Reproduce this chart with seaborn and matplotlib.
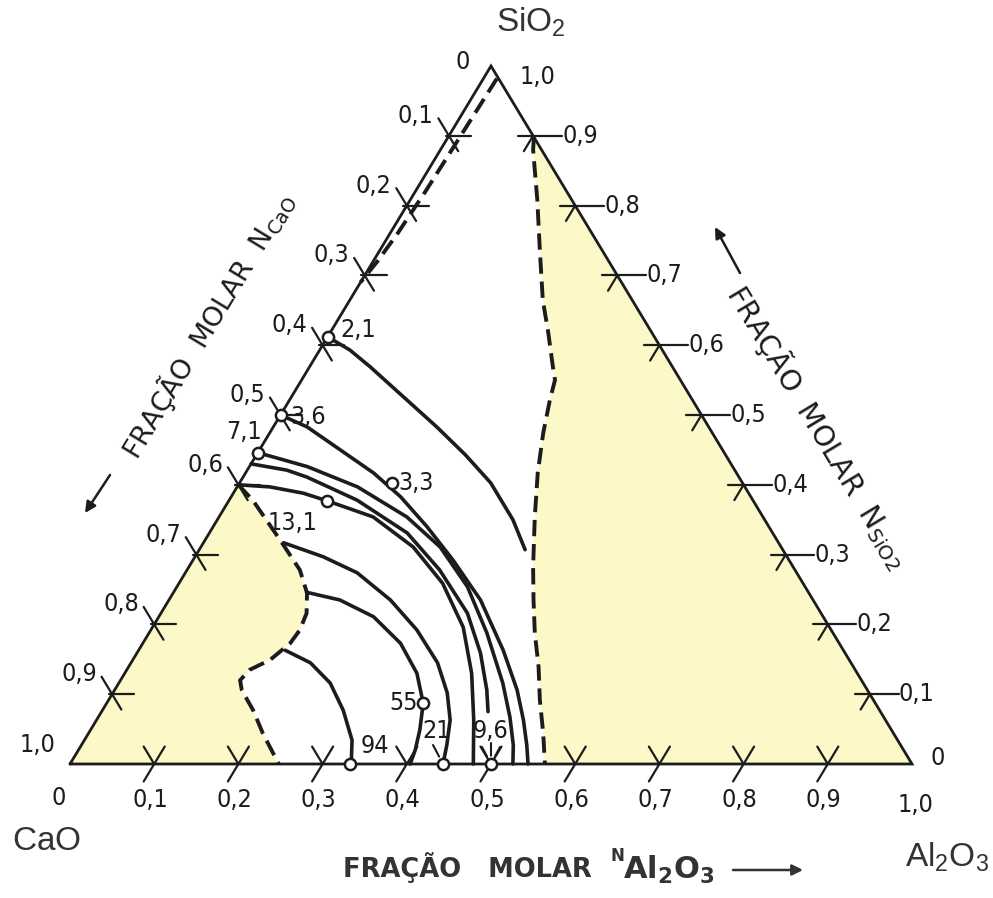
import numpy as np
import pandas as pd
import matplotlib
matplotlib.use("Agg")
import matplotlib.pyplot as plt
import seaborn as sns
from matplotlib import font_manager as fm

# ---------------- data: ternary compositions (N_Al2O3, N_SiO2); N_CaO = 1 - both ----------------
# iso-lines (solid)
al_2_1 = [0.000, 0.036, 0.072, 0.133, 0.194, 0.248, 0.298, 0.351, 0.387]
si_2_1 = [0.612, 0.593, 0.569, 0.526, 0.483, 0.443, 0.403, 0.350, 0.307]

al_3_6 = [0.000, 0.040, 0.096, 0.152, 0.201, 0.254, 0.309, 0.370, 0.433, 0.478, 0.507, 0.529, 0.544]
si_3_6 = [0.500, 0.483, 0.450, 0.417, 0.383, 0.340, 0.292, 0.235, 0.163, 0.106, 0.063, 0.027, 0.000]

al_7_1 = [0.000, 0.021, 0.069, 0.143, 0.223, 0.284, 0.345, 0.401, 0.456, 0.489, 0.513, 0.526]
si_7_1 = [0.446, 0.440, 0.426, 0.397, 0.354, 0.311, 0.254, 0.188, 0.116, 0.067, 0.027, 0.000]

al_9_6 = [0.000, 0.047, 0.076, 0.152, 0.235, 0.300, 0.364, 0.408, 0.442, 0.459]
si_9_6 = [0.430, 0.421, 0.411, 0.378, 0.331, 0.278, 0.216, 0.159, 0.106, 0.075]

al_13_1 = [0.000, 0.039, 0.083, 0.117, 0.183, 0.252, 0.313, 0.369, 0.412, 0.448, 0.479]
si_13_1 = [0.400, 0.397, 0.388, 0.377, 0.354, 0.311, 0.259, 0.196, 0.130, 0.063, 0.000]

al_21 = [0.095, 0.152, 0.204, 0.263, 0.316, 0.364, 0.397, 0.420, 0.434, 0.443]
si_21 = [0.317, 0.297, 0.274, 0.235, 0.192, 0.145, 0.102, 0.063, 0.027, 0.000]

al_55 = [0.158, 0.203, 0.255, 0.306, 0.347, 0.376, 0.391, 0.400, 0.404]
si_55 = [0.246, 0.235, 0.211, 0.173, 0.130, 0.087, 0.049, 0.020, 0.000]

al_94 = [0.174, 0.213, 0.251, 0.286, 0.318, 0.334]
si_94 = [0.163, 0.145, 0.116, 0.077, 0.034, 0.000]

# phase boundaries (dashed)
left_bound_al = [0.000, 0.028, 0.089, 0.134, 0.159, 0.173, 0.177, 0.175, 0.163, 0.146, 0.142, 0.151, 0.179, 0.207, 0.233, 0.248]
left_bound_si = [0.400, 0.378, 0.321, 0.278, 0.245, 0.216, 0.192, 0.173, 0.149, 0.135, 0.120, 0.106, 0.077, 0.044, 0.016, 0.000]

right_bound_al = [0.102, 0.110, 0.151, 0.190, 0.229, 0.259, 0.289, 0.301, 0.309, 0.325, 0.347, 0.375, 0.409, 0.433, 0.458, 0.487, 0.512, 0.540, 0.564]
right_bound_si = [0.898, 0.880, 0.808, 0.736, 0.665, 0.618, 0.569, 0.550, 0.522, 0.474, 0.417, 0.354, 0.282, 0.235, 0.188, 0.139, 0.092, 0.044, 0.000]

apex_bound_al = [0.016, 0.014, 0.012, 0.009, 0.005, 0.000]
apex_bound_si = [0.982, 0.900, 0.820, 0.760, 0.720, 0.690]

# measured points
pt_labels = ["2,1", "3,6", "7,1", "13,1", "3,3", "55", "94", "21", "9,6"]
pt_al = [0.000, 0.000, 0.000, 0.117, 0.181, 0.376, 0.333, 0.443, 0.500]
pt_si = [0.612, 0.500, 0.446, 0.377, 0.403, 0.087, 0.000, 0.000, 0.000]

# axis ticks
tick_values = [0.1, 0.2, 0.3, 0.4, 0.5, 0.6, 0.7, 0.8, 0.9]
tick_labels = ["0,1", "0,2", "0,3", "0,4", "0,5", "0,6", "0,7", "0,8", "0,9"]

# ---------------- style ----------------
sns.set_theme(style="white")
plt.rcParams["font.family"] = ["DejaVu Sans"]
names = {f.name for f in fm.fontManager.ttflist}
NARROW = "Liberation Sans Narrow" if "Liberation Sans Narrow" in names else "DejaVu Sans"
STRETCH = "normal" if NARROW != "DejaVu Sans" else "condensed"
CORNER = "Liberation Sans" if "Liberation Sans" in names else "DejaVu Sans"
plt.rcParams["mathtext.fontset"] = "custom"
plt.rcParams["mathtext.rm"] = "DejaVu Sans"
plt.rcParams["mathtext.sf"] = CORNER
plt.rcParams["mathtext.bf"] = "DejaVu Sans:bold"

INK = "#1c1c1c"
YELLOW = "#fcf8c8"
W, H = 993, 898

fig = plt.figure(figsize=(W / 100, H / 100), dpi=100)
fig.patch.set_facecolor("white")
ax = fig.add_axes([0, 0, 1, 1])
ax.set_xlim(-70 / 842, 923 / 842)
ax.set_ylim((764 - 898) / 698, 764 / 698)
ax.axis("off")


def tern(al, si):
    al = np.asarray(al, dtype=float)
    si = np.asarray(si, dtype=float)
    return al + 0.5 * si, si


# ---------------- yellow regions ----------------
lx, ly = tern([0.0] + left_bound_al, [0.0] + left_bound_si)
ax.fill(lx, ly, color=YELLOW, lw=0, zorder=0)
rx, ry = tern(right_bound_al + [1.0], right_bound_si + [0.0])
ax.fill(rx, ry, color=YELLOW, lw=0, zorder=0)

# ---------------- iso-lines ----------------
curves = {
    "2,1": (al_2_1, si_2_1), "3,6": (al_3_6, si_3_6), "7,1": (al_7_1, si_7_1),
    "9,6": (al_9_6, si_9_6), "13,1": (al_13_1, si_13_1), "21": (al_21, si_21),
    "55": (al_55, si_55), "94": (al_94, si_94),
}
rows = []
for name, (al, si) in curves.items():
    X, Y = tern(al, si)
    for i, (x, y) in enumerate(zip(X, Y)):
        rows.append({"curve": name, "i": i, "X": x, "Y": y})
df = pd.DataFrame(rows)
sns.lineplot(data=df, x="X", y="Y", units="curve", estimator=None, sort=False,
             color=INK, lw=2.6, ax=ax, legend=False, zorder=3)

# ---------------- dashed boundaries ----------------
for al, si in [(left_bound_al, left_bound_si), (right_bound_al, right_bound_si),
               (apex_bound_al, apex_bound_si)]:
    X, Y = tern(al, si)
    ax.plot(X, Y, color=INK, lw=2.8, linestyle=(0, (4.2, 2.0)), zorder=3,
            solid_capstyle="butt", dash_capstyle="butt")

# ---------------- triangle ----------------
tx, ty = tern([0, 1, 0, 0], [0, 0, 1, 0])
ax.plot(tx, ty, color=INK, lw=2.0, zorder=4, solid_joinstyle="miter")

# ---------------- ticks ----------------
tick_kw = dict(color=INK, lw=1.6, zorder=4)
lab_kw = dict(fontsize=18, fontfamily=NARROW, fontstretch=STRETCH, color=INK,
              ha="center", va="center", textcoords="offset pixels")
for t, lab in zip(tick_values, tick_labels):
    # left side: N_CaO = t
    s = 1 - t
    x, y = tern([-0.025, 0.022], [s + 0.025, s - 0.022])
    ax.plot(x, y, **tick_kw)
    x, y = tern([-0.004, 0.026], [s, s])
    ax.plot(x, y, **tick_kw)
    P = tern(0, s)
    ax.annotate(lab, xy=P, xytext=(-33, 20), **lab_kw)
    # bottom: N_Al2O3 = t
    x, y = tern([t, t], [-0.025, 0.025])
    ax.plot(x, y, **tick_kw)
    x, y = tern([t, t - 0.025], [0, 0.025])
    ax.plot(x, y, **tick_kw)
    ax.annotate(lab, xy=tern(t, 0), xytext=(-4, -36), **lab_kw)
    # right side: N_SiO2 = t
    x, y = tern([1 - t - 0.018, 1 - t + 0.034], [t, t])
    ax.plot(x, y, **tick_kw)
    x, y = tern([1 - t, 1 - t], [t, t - 0.022])
    ax.plot(x, y, **tick_kw)
    ax.annotate(lab, xy=tern(1 - t, t), xytext=(47, 0), **lab_kw)

# end labels at the corners
ax.annotate("0", xy=tern(0, 1), xytext=(-28, 4), **lab_kw)
ax.annotate("1,0", xy=tern(0, 1), xytext=(47, -11), **lab_kw)
ax.annotate("1,0", xy=tern(0, 0), xytext=(-32, 19), **lab_kw)
ax.annotate("0", xy=tern(0, 0), xytext=(-11, -34), **lab_kw)
ax.annotate("1,0", xy=tern(1, 0), xytext=(3, -41), **lab_kw)
ax.annotate("0", xy=tern(1, 0), xytext=(26, 6), **lab_kw)

# ---------------- measured points ----------------
PX, PY = tern(pt_al, pt_si)
sns.scatterplot(x=PX, y=PY, s=65, facecolor="white", edgecolor=INK, linewidth=1.8,
                ax=ax, zorder=6, legend=False)
label_offsets = {"2,1": (31, 7), "3,6": (28, -2), "7,1": (-14, 21), "13,1": (-35, -22),
                 "3,3": (24, 0), "55": (-20, 0), "94": (25, 18), "21": (-6, 33), "9,6": (-1, 33)}
for lab, x, y in zip(pt_labels, PX, PY):
    ax.annotate(lab, xy=(x, y), xytext=label_offsets[lab], **lab_kw)

# pointer strokes
ptr = dict(arrowstyle="-", color=INK, lw=1.5, shrinkA=0, shrinkB=6)
i21 = pt_labels.index("21")
ax.annotate("", xy=(PX[i21], PY[i21]), xytext=(-10, 19), textcoords="offset pixels", arrowprops=ptr)
i96 = pt_labels.index("9,6")
for off in [(-9, 17), (0, 21), (9, 17)]:
    ax.annotate("", xy=(PX[i96], PY[i96]), xytext=off, textcoords="offset pixels", arrowprops=ptr)

# ---------------- corner labels ----------------
def fpos(px, py):
    return px / W, 1 - py / H

fig.text(*fpos(531, 22), r"$\mathsf{SiO_2}$", fontsize=24, color="#333333", ha="center", va="center")
fig.text(*fpos(47, 840), r"$\mathsf{CaO}$", fontsize=24, color="#333333", ha="center", va="center")
fig.text(*fpos(947, 857), r"$\mathsf{Al_2O_3}$", fontsize=24, color="#333333", ha="center", va="center")

# ---------------- axis titles ----------------
fig.text(*fpos(208, 325), r"FRAÇÃO  MOLAR  N$_{\mathrm{CaO}}$", fontsize=19.5, color=INK,
         rotation=58.8, ha="center", va="center", rotation_mode="anchor")
fig.text(*fpos(818, 427), r"FRAÇÃO  MOLAR  N$_{\mathrm{SiO2}}$", fontsize=20.5, color=INK,
         rotation=-59.0, ha="center", va="center", rotation_mode="anchor")
fig.text(*fpos(343, 868), "FRAÇÃO   MOLAR", fontsize=18.5, fontweight="bold", color="#333333",
         ha="left", va="center")
fig.text(*fpos(617, 856), "N", fontsize=12, fontweight="bold", color="#333333", ha="center", va="center")
fig.text(*fpos(623, 870), r"$\mathbf{Al_2O_3}$", fontsize=22, color="#333333", ha="left", va="center")

arr = dict(arrowstyle="-|>", color=INK, lw=1.8, mutation_scale=16, shrinkA=0, shrinkB=0)
ax.annotate("", xy=(85, H - 513), xytext=(110, H - 475), xycoords="figure pixels",
            textcoords="figure pixels", arrowprops=arr)
ax.annotate("", xy=(715, H - 227), xytext=(740, H - 273), xycoords="figure pixels",
            textcoords="figure pixels", arrowprops=arr)
ax.annotate("", xy=(803, H - 870), xytext=(733, H - 870), xycoords="figure pixels",
            textcoords="figure pixels", arrowprops=dict(arr, color="#333333"))

fig.savefig("out.png", dpi=100)
